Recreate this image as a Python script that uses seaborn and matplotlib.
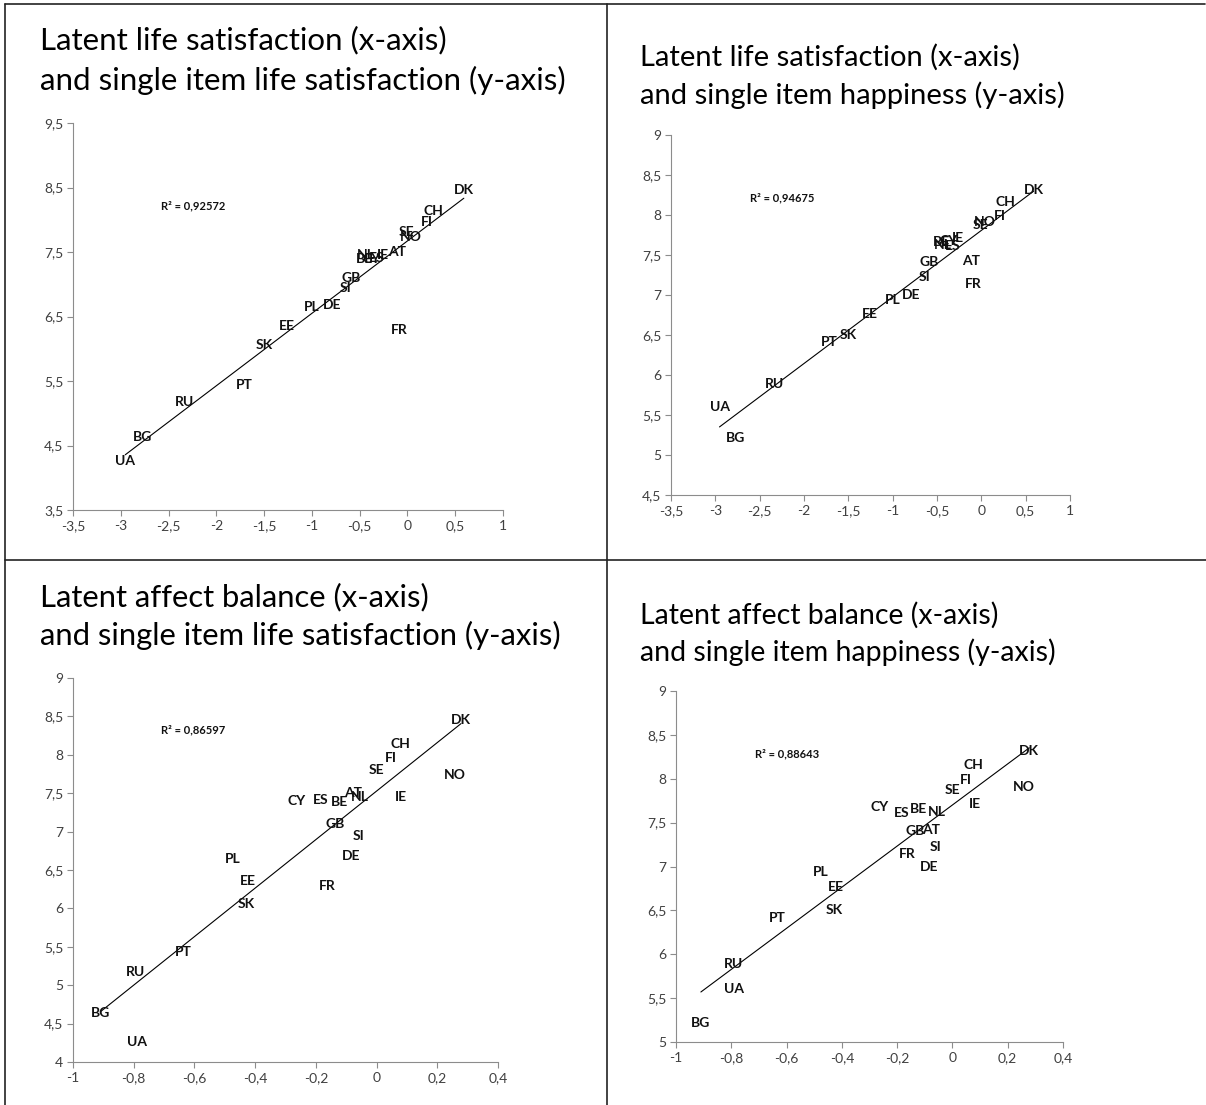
import matplotlib
matplotlib.use("Agg")
import matplotlib.pyplot as plt
import seaborn as sns
import numpy as np
import pandas as pd
from matplotlib.lines import Line2D
from matplotlib.ticker import FuncFormatter

# ---------------- data ----------------
countries = ["DK", "CH", "FI", "SE", "NO", "AT", "NL", "IE", "BE", "ES", "CY",
             "GB", "SI", "DE", "PL", "EE", "SK", "FR", "PT", "RU", "BG", "UA"]
latent_ls = [0.59, 0.267, 0.204, -0.005, 0.04, -0.113, -0.43, -0.26, -0.45, -0.32, -0.37,
             -0.59, -0.645, -0.792, -1.003, -1.257, -1.50, -0.09, -1.71, -2.33, -2.777, -2.953]
latent_ab = [0.278, 0.077, 0.048, 0.0, 0.257, -0.078, -0.055, 0.08, -0.122, -0.185, -0.264,
             -0.135, -0.06, -0.084, -0.475, -0.423, -0.428, -0.164, -0.635, -0.793, -0.91, -0.79]
single_ls = [8.455, 8.135, 7.96, 7.803, 7.733, 7.507, 7.45, 7.455, 7.385, 7.41, 7.395,
             7.103, 6.94, 6.68, 6.645, 6.355, 6.053, 6.297, 5.434, 5.168, 4.637, 4.254]
single_hap = [8.314, 8.158, 7.988, 7.873, 7.91, 7.42, 7.622, 7.708, 7.66, 7.615, 7.68,
              7.41, 7.227, 6.998, 6.935, 6.765, 6.501, 7.137, 6.411, 5.887, 5.217, 5.603]

titles = [
    ["Latent life satisfaction (x-axis)", "and single item life satisfaction (y-axis)"],
    ["Latent life satisfaction (x-axis)", "and single item happiness (y-axis)"],
    ["Latent affect balance (x-axis)", "and single item life satisfaction (y-axis)"],
    ["Latent affect balance (x-axis)", "and single item happiness (y-axis)"],
]
r2_labels = ["R² = 0,92572", "R² = 0,94675", "R² = 0,86597", "R² = 0,88643"]

xticks_ls = [-3.5, -3, -2.5, -2, -1.5, -1, -0.5, 0, 0.5, 1]
xticks_ab = [-1, -0.8, -0.6, -0.4, -0.2, 0, 0.2, 0.4]
yticks_p1 = [3.5, 4.5, 5.5, 6.5, 7.5, 8.5, 9.5]
yticks_p2 = [4.5, 5, 5.5, 6, 6.5, 7, 7.5, 8, 8.5, 9]
yticks_p3 = [4, 4.5, 5, 5.5, 6, 6.5, 7, 7.5, 8, 8.5, 9]
yticks_p4 = [5, 5.5, 6, 6.5, 7, 7.5, 8, 8.5, 9]

# ---------------- style ----------------
sns.set_theme(style="white")
plt.rcParams["font.family"] = ["Lato", "DejaVu Sans"]

W, H = 1206, 1105
fig = plt.figure(figsize=(W / 100, H / 100), dpi=100)
fig.patch.set_facecolor("white")


def px_axes(left, right, top, bottom):
    return fig.add_axes([left / W, 1 - bottom / H, (right - left) / W, (bottom - top) / H])


def comma_fmt(v, pos):
    v = round(v, 6)
    if abs(v) < 1e-9:
        v = 0.0
    return f"{v:g}".replace(".", ",")


panels = [
    dict(x=latent_ls, y=single_ls, box=(73, 503, 123, 510), xt=xticks_ls, yt=yticks_p1,
         r2pos=(-2.24, 8.22), title_xy=(40, 40, 80), tsize=22.5),
    dict(x=latent_ls, y=single_hap, box=(671, 1070, 135, 495), xt=xticks_ls, yt=yticks_p2,
         r2pos=(-2.25, 8.21), title_xy=(640, 57, 95), tsize=21),
    dict(x=latent_ab, y=single_ls, box=(73, 498, 678, 1062), xt=xticks_ab, yt=yticks_p3,
         r2pos=(-0.605, 8.33), title_xy=(40, 597, 635), tsize=22.3),
    dict(x=latent_ab, y=single_hap, box=(676, 1063, 691, 1042), xt=xticks_ab, yt=yticks_p4,
         r2pos=(-0.60, 8.28), title_xy=(640, 615, 652), tsize=20.5),
]

spine_col = "#8c8c8c"
tick_col = "#404040"

for i, p in enumerate(panels):
    ax = px_axes(*p["box"])
    df = pd.DataFrame({"x": p["x"], "y": p["y"], "c": countries})
    sns.regplot(data=df, x="x", y="y", ax=ax, scatter=False, ci=None, truncate=True,
                line_kws=dict(color="black", lw=0.8))
    for _, row in df.iterrows():
        ax.text(row["x"], row["y"], row["c"], ha="center", va="center",
                fontsize=10, fontweight="bold", color="#111111")
    ax.text(p["r2pos"][0], p["r2pos"][1], r2_labels[i], ha="center", va="center",
            fontsize=8, fontweight="bold", color="#111111")
    ax.set_xlim(p["xt"][0], p["xt"][-1])
    ax.set_ylim(p["yt"][0], p["yt"][-1])
    ax.set_xticks(p["xt"])
    ax.set_yticks(p["yt"])
    ax.xaxis.set_major_formatter(FuncFormatter(comma_fmt))
    ax.yaxis.set_major_formatter(FuncFormatter(comma_fmt))
    ax.set_xlabel("")
    ax.set_ylabel("")
    for s in ["top", "right"]:
        ax.spines[s].set_visible(False)
    for s in ["left", "bottom"]:
        ax.spines[s].set_color(spine_col)
        ax.spines[s].set_linewidth(0.8)
    ax.tick_params(axis="both", which="major", direction="out", length=4, width=0.8,
                   color=spine_col, labelcolor=tick_col, labelsize=10, pad=3,
                   bottom=True, left=True)
    ax.set_facecolor("white")
    ax.grid(False)

    tx, ty1, ty2 = p["title_xy"]
    fig.text(tx / W, 1 - ty1 / H, titles[i][0], ha="left", va="center",
             fontsize=p["tsize"], color="black")
    fig.text(tx / W, 1 - ty2 / H, titles[i][1], ha="left", va="center",
             fontsize=p["tsize"], color="black")

# frame lines (table borders)
lw = 1.2
fig.add_artist(Line2D([5 / W, 1205 / W], [1 - 4 / H, 1 - 4 / H], color="#222222", lw=lw))
fig.add_artist(Line2D([5 / W, 5 / W], [1 - 4 / H, 0], color="#222222", lw=lw))
fig.add_artist(Line2D([607 / W, 607 / W], [1 - 4 / H, 0], color="#222222", lw=lw))
fig.add_artist(Line2D([5 / W, 1206 / W], [1 - 560 / H, 1 - 560 / H], color="#222222", lw=lw))

fig.savefig("out.png", dpi=100, facecolor="white")
